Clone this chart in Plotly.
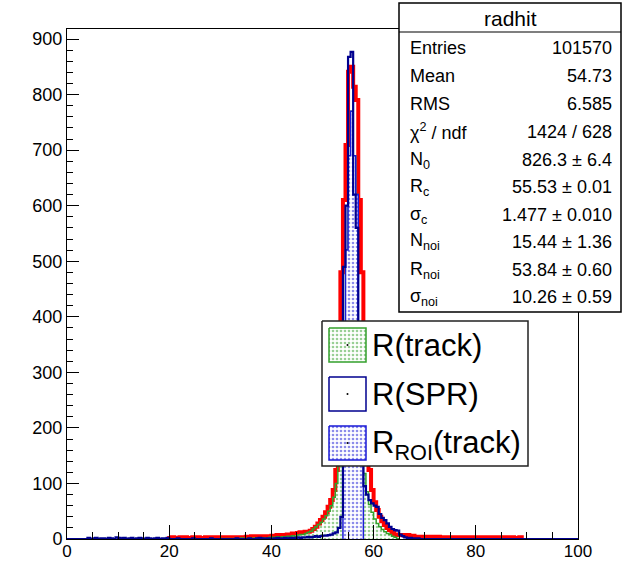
import plotly.graph_objects as go

# ---------------------------------------------------------------- data
# Histogram binning (0 .. 100, 0.5 wide bins)
HIST_LO = 0.0
HIST_HI = 100.0
BIN_W = 0.5

# radhit (drawn as thick red line), counts per bin starting at RADHIT_START
RADHIT_START = 20.0
radhit_counts = [
    2, 3, 2, 2, 3, 2, 3, 2, 2, 3, 2, 3, 2, 2, 3, 2, 3, 3, 2, 3, 3, 2, 3, 3, 3, 3, 2, 3, 3, 3,   # 20-35
    4, 4, 5, 4, 5, 5, 4, 5, 5, 5, 6, 6, 7, 6, 7, 7, 8, 8,                                     # 35-44
    10, 10, 11, 12, 12, 13, 13, 15, 18, 22, 28, 34, 40, 48, 58, 70, 88,                       # 44-52.5
    124, 260, 480, 610, 709, 841, 850, 814, 790, 610, 480, 290, 180, 124, 88, 66,             # 52.5-60.5
    52, 40, 32, 25, 20, 16, 12,                                                               # 60.5-64
    8, 7, 7, 7, 6, 7, 6, 6,                                                                   # 64-68
    4, 4, 4, 3, 4, 4, 3, 4, 4, 4,                                                             # 68-73
    3, 3, 2, 3, 3, 2, 3, 3, 2, 3, 3, 3, 2, 3, 3, 2, 3, 2, 3, 3, 2, 3, 2, 3, 3, 2, 3, 2, 3, 2, 2, 3,  # 73-89
]

# R(track), counts per bin starting at TRACK_START
TRACK_START = 30.0
track_counts = [
    1, 0, 1, 1, 0, 1, 1, 1, 2, 1, 1, 2, 1, 2, 2, 1, 2, 2, 2, 3,                               # 30-40
    3, 3, 4, 3, 4, 4, 5, 5,                                                                   # 40-44
    6, 5, 7, 8, 8, 10, 12, 14, 18, 22, 26, 30, 36, 42, 50, 60, 75,                            # 44-52.5
    100, 140, 250, 300, 520, 690, 770, 690, 620, 330, 180, 118, 85, 62, 48, 36,               # 52.5-60.5
    28, 22, 17, 13, 10, 8, 5, 3, 1,                                                           # 60.5-65
]

# R(SPR), counts per bin starting at SPR_START
SPR_START = 4.0
spr_counts = [
    2, 0, 1, 2, 0, 1, 1, 0, 2, 1, 0, 3, 2, 1, 2, 0, 1, 2, 0, 1, 2, 1, 0, 2, 1, 0, 1, 2, 0, 1, 1, 2,  # 4-20
    0, 0, 0, 1, 0, 0, 0, 0, 0, 1, 0, 0, 0, 0, 0, 0, 1, 0, 0, 0, 0, 0, 0, 0, 0, 0, 1, 0, 0, 0,   # 20-35
    0, 1, 0, 0, 1, 2, 1, 0, 1, 1, 0, 1, 2, 1, 1, 2, 1, 2,                                     # 35-44
    2, 2, 3, 2, 3, 3, 4, 3, 4, 5, 4, 5, 6, 6, 7, 8, 10,                                       # 44-52.5
    12, 20, 40, 490, 600, 868, 877, 620, 560, 300, 200, 95, 80, 70, 64, 60,                   # 52.5-60.5
    58, 45, 38, 34, 28, 22, 18, 16, 15, 8, 5, 3, 2, 2, 1, 1, 1,                               # 60.5-69
]

# R_ROI(track): R(track) restricted to the ROI window
ROI_LO = 54.0
ROI_HI = 58.0

# Stats box
STATS_TITLE = "radhit"
stats_labels = ["Entries", "Mean", "RMS", "χ<sup>2</sup> / ndf", "N<sub>0</sub>", "R<sub>c</sub>",
                "σ<sub>c</sub>", "N<sub>noi</sub>", "R<sub>noi</sub>", "σ<sub>noi</sub>"]
stats_values = ["101570", "54.73", "6.585", "1424 / 628", "826.3 ± 6.4", "55.53 ± 0.01",
                "1.477 ± 0.010", "15.44 ± 1.36", "53.84 ± 0.60", "10.26 ± 0.59"]

legend_labels = ["R(track)", "R(SPR)", "R<sub>ROI</sub>(track)"]

X_TICKS = [0, 20, 40, 60, 80, 100]
Y_TICKS = [0, 100, 200, 300, 400, 500, 600, 700, 800, 900]
Y_MAX = 918

# ---------------------------------------------------------------- styles
RED = "#ff0000"
GREEN = "#33a02c"
SPR_BLUE = "#00008f"
ROI_BLUE = "#1a1ad6"
FONT = "Liberation Sans, Arial, Helvetica, sans-serif"

W, H = 625, 561
PLOT_L, PLOT_R, PLOT_T, PLOT_B = 67, 578, 29, 539


def px_x(p):
    return (p - PLOT_L) / (PLOT_R - PLOT_L)


def px_y(p):
    return (PLOT_B - p) / (PLOT_B - PLOT_T)


def step_xy(start, counts):
    """Outline of a step histogram whose first bin starts at `start`."""
    edges = [start + i * BIN_W for i in range(len(counts) + 1)]
    xs = [edges[0]] + edges + [edges[-1]]
    ys = [0] + list(counts) + [counts[-1], 0]
    return xs, ys


def full_range(start, counts):
    """Place a partial count list into the full histogram range."""
    nbins = int(round((HIST_HI - HIST_LO) / BIN_W))
    out = [0] * nbins
    off = int(round((start - HIST_LO) / BIN_W))
    for i, c in enumerate(counts):
        out[off + i] = c
    return out


# ROI histogram derived from R(track)
roi_counts = []
for i, c in enumerate(track_counts):
    lo = TRACK_START + i * BIN_W
    if lo >= ROI_LO - 1e-9 and lo + BIN_W <= ROI_HI + 1e-9:
        roi_counts.append(c)
roi_start = ROI_LO

fig = go.Figure()

# radhit (thick red)
x, y = step_xy(RADHIT_START, radhit_counts)
fig.add_trace(go.Scatter(x=x, y=y, mode="lines", line=dict(color=RED, width=4, shape="hv"),
                         showlegend=False, hoverinfo="skip"))

# R(track) (green dotted fill)
x, y = step_xy(TRACK_START, track_counts)
fig.add_trace(go.Scatter(x=x, y=y, mode="lines", line=dict(color=GREEN, width=1.5, shape="hv"),
                         fill="tozeroy", fillcolor="rgba(0,0,0,0)",
                         fillpattern=dict(shape=".", fgcolor=GREEN, bgcolor="rgba(0,0,0,0)",
                                          size=4, solidity=0.35, fillmode="overlay"),
                         showlegend=False, hoverinfo="skip"))

# R_ROI(track) (blue dotted fill)
x, y = step_xy(roi_start, roi_counts)
fig.add_trace(go.Scatter(x=x, y=y, mode="lines", line=dict(color=ROI_BLUE, width=1.5, shape="hv"),
                         fill="tozeroy", fillcolor="white",
                         fillpattern=dict(shape=".", fgcolor=ROI_BLUE, bgcolor="white",
                                          size=4, solidity=0.35, fillmode="overlay"),
                         showlegend=False, hoverinfo="skip"))

# R(SPR) (dark blue outline over the full range)
x, y = step_xy(HIST_LO, full_range(SPR_START, spr_counts))
fig.add_trace(go.Scatter(x=x, y=y, mode="lines", line=dict(color=SPR_BLUE, width=2.2, shape="hv"),
                         showlegend=False, hoverinfo="skip"))

# ---------------------------------------------------------------- legend (overlay axes in paper units)
LEG_BOX = (322, 528, 321, 466)
leg_rows = [(328, 362), (377, 411), (426, 460)]
SW_L, SW_R = 329, 366

bx0, bx1, by0, by1 = LEG_BOX
fig.add_trace(go.Scatter(
    x=[px_x(bx0), px_x(bx1), px_x(bx1), px_x(bx0), px_x(bx0)],
    y=[px_y(by0), px_y(by0), px_y(by1), px_y(by1), px_y(by0)],
    xaxis="x2", yaxis="y2", mode="lines", fill="toself", fillcolor="white",
    line=dict(color="#222222", width=1.5), showlegend=False, hoverinfo="skip"))

swatch_styles = [
    dict(line=GREEN, pattern=GREEN, bg="rgba(0,0,0,0)"),
    dict(line=SPR_BLUE, pattern=None, bg="white"),
    dict(line=ROI_BLUE, pattern=ROI_BLUE, bg="white"),
]
for (t, b), st in zip(leg_rows, swatch_styles):
    kw = dict(
        x=[px_x(SW_L), px_x(SW_R), px_x(SW_R), px_x(SW_L), px_x(SW_L)],
        y=[px_y(t), px_y(t), px_y(b), px_y(b), px_y(t)],
        xaxis="x2", yaxis="y2", mode="lines", fill="toself", fillcolor=st["bg"],
        line=dict(color=st["line"], width=1.5), showlegend=False, hoverinfo="skip")
    if st["pattern"]:
        kw["fillpattern"] = dict(shape=".", fgcolor=st["pattern"], bgcolor=st["bg"],
                                 size=4, solidity=0.35, fillmode="overlay")
    fig.add_trace(go.Scatter(**kw))
    fig.add_trace(go.Scatter(x=[px_x((SW_L + SW_R) / 2)], y=[px_y((t + b) / 2)],
                             xaxis="x2", yaxis="y2", mode="markers",
                             marker=dict(color="black", size=2), showlegend=False, hoverinfo="skip"))

annotations = []
leg_text_y = [345, 394, 445]
for lab, ty in zip(legend_labels, leg_text_y):
    annotations.append(dict(x=px_x(370), y=px_y(ty), xref="paper", yref="paper", text=lab,
                            showarrow=False, xanchor="left", yanchor="middle",
                            font=dict(family=FONT, size=31, color="black")))

# ---------------------------------------------------------------- stats box
SB_L, SB_R, SB_T, SB_B, SB_SEP = 399, 621, 3, 312, 32
shapes = [
    dict(type="rect", xref="paper", yref="paper", x0=px_x(SB_L), x1=px_x(SB_R),
         y0=px_y(SB_B), y1=px_y(SB_T), fillcolor="white", line=dict(color="black", width=1.5),
         layer="above"),
    dict(type="line", xref="paper", yref="paper", x0=px_x(SB_L), x1=px_x(SB_R),
         y0=px_y(SB_SEP), y1=px_y(SB_SEP), line=dict(color="black", width=1.2), layer="above"),
]
annotations.append(dict(x=px_x((SB_L + SB_R) / 2), y=px_y(18), xref="paper", yref="paper",
                        text=STATS_TITLE, showarrow=False, xanchor="center", yanchor="middle",
                        font=dict(family=FONT, size=21, color="black")))
row_y = [48, 76, 104, 132, 160, 187, 215, 242, 270, 297]
for lab, val, ry in zip(stats_labels, stats_values, row_y):
    annotations.append(dict(x=px_x(408), y=px_y(ry), xref="paper", yref="paper", text=lab,
                            showarrow=False, xanchor="left", yanchor="middle",
                            font=dict(family=FONT, size=18, color="black")))
    annotations.append(dict(x=px_x(614), y=px_y(ry), xref="paper", yref="paper", text=val,
                            showarrow=False, xanchor="right", yanchor="middle",
                            font=dict(family=FONT, size=18, color="black")))

fig.update_layout(
    width=W, height=H,
    margin=dict(l=PLOT_L, r=W - PLOT_R, t=PLOT_T, b=H - PLOT_B, pad=0, autoexpand=False),
    paper_bgcolor="white", plot_bgcolor="white",
    showlegend=False,
    font=dict(family=FONT, size=18, color="black"),
    xaxis=dict(range=[HIST_LO, HIST_HI], tickvals=X_TICKS, ticks="inside", ticklen=14,
               tickwidth=1, tickcolor="black", showgrid=False, zeroline=False, automargin=False,
               showline=True, linecolor="black", linewidth=1, mirror=True, ticklabelstandoff=-3,
               minor=dict(dtick=5, ticks="inside", ticklen=7, tickcolor="black", showgrid=False),
               tickfont=dict(family=FONT, size=17, color="black")),
    yaxis=dict(range=[0, Y_MAX], tickvals=Y_TICKS, ticks="inside", ticklen=12,
               tickwidth=1, tickcolor="black", showgrid=False, zeroline=False, automargin=False,
               showline=True, linecolor="black", linewidth=1, mirror=True,
               minor=dict(dtick=20, ticks="inside", ticklen=6, tickcolor="black", showgrid=False),
               tickfont=dict(family=FONT, size=18, color="black")),
    xaxis2=dict(domain=[0, 1], range=[0, 1], overlaying="x", anchor="y2", visible=False),
    yaxis2=dict(domain=[0, 1], range=[0, 1], overlaying="y", anchor="x2", visible=False),
    shapes=shapes,
    annotations=annotations,
)

fig.write_html("out.html")
